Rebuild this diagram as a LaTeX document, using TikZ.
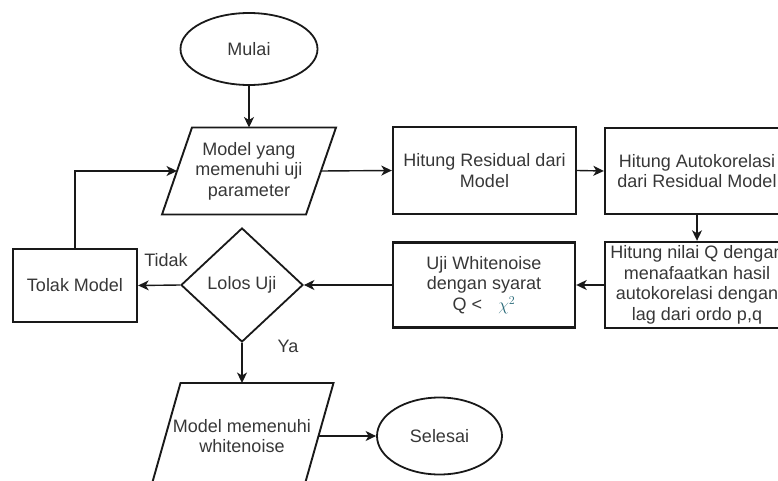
\documentclass[tikz,border=0pt]{standalone}
\usepackage{fontspec}
\setmainfont{Liberation Sans}
\usetikzlibrary{shapes.geometric,arrows.meta}
\definecolor{txt}{RGB}{55,55,55}
\definecolor{chicol}{RGB}{40,105,120}
\begin{document}
\begin{tikzpicture}[x=1pt,y=-1pt,
  font=\fontsize{18}{20.5}\selectfont, text=txt,
  box/.style={draw=black!90, line width=2.4pt, rectangle, inner sep=0pt, align=center},
  term/.style={draw=black!90, ellipse, line width=1.8pt, inner sep=0pt, align=center},
  dec/.style={draw=black!90, diamond, line width=1.8pt, inner sep=0pt, aspect=1.07},
  io/.style={rectangle, inner sep=0pt, align=center, outer sep=1pt},
  ioline/.style={draw=black!90, line width=1.9pt, line join=miter},
  conn/.style={draw=black!90, line width=1.4pt, -{Stealth[length=10.5pt,width=10pt,inset=3pt]}},
  lbl/.style={inner sep=0pt}
]
\useasboundingbox (0,0) rectangle (778,481);
\clip (0,0) rectangle (778,481);

% nodes
\node[term, minimum width=137pt, minimum height=72pt] (mulai) at (249,49) {Mulai};
\node[io, minimum width=142pt, minimum height=85pt] (p1) at (249,171) {Model yang\\memenuhi uji\\parameter};
\draw[ioline] ([xshift=15pt]p1.north west) -- ([xshift=15pt]p1.north east) -- ([xshift=-15pt]p1.south east) -- ([xshift=-15pt]p1.south west) -- cycle;
\node[box, minimum width=183pt, minimum height=87pt] (res) at (484.5,170.5) {Hitung Residual dari\\Model};
\node[box, minimum width=184pt, minimum height=86pt] (auto) at (697,171) {Hitung Autokorelasi\\dari Residual Model};
\node[box, minimum width=184pt, minimum height=86pt] (q) at (697,285) {Hitung nilai Q dengan\\menafaatkan hasil\\autokorelasi dengan\\lag dari ordo p,q};
\node[box, minimum width=182pt, minimum height=85pt] (uji) at (484,285) {Uji Whitenoise\\dengan syarat\\Q <\hspace{0.9em}{\color{chicol}$\chi^{2}$}};
\node[dec, minimum width=122pt, minimum height=114pt] (dec) at (242,285) {Lolos Uji};
\node[box, minimum width=124pt, minimum height=73pt] (tolak) at (75,285.5) {Tolak Model};
\node[io, minimum width=151pt, minimum height=104pt] (p2) at (242,436) {Model memenuhi\\whitenoise};
\draw[ioline] ([xshift=15pt]p2.north west) -- ([xshift=15pt]p2.north east) -- ([xshift=-15pt]p2.south east) -- ([xshift=-15pt]p2.south west) -- cycle;
\node[term, minimum width=125pt, minimum height=77pt] (selesai) at (439.5,436) {Selesai};

% labels
\node[lbl] (tidak) at (166,260) {Tidak};
\node[lbl] (ya) at (288,346) {Ya};

% connectors
\draw[conn] (mulai.south) -- (p1.north);
\draw[conn] (p1.east) -- (res.west);
\draw[conn] (res.east) -- (auto.west);
\draw[conn] (auto.south) -- (q.north);
\draw[conn] (q.west) -- (uji.east);
\draw[conn] (uji.west) -- (dec.east);
\draw[conn] (dec.west) -- (tolak.east);
\draw[conn] (tolak.north) |- (p1.west);
\draw[conn] (dec.south) -- (p2.north);
\draw[conn] (p2.east) -- (selesai.west);
\end{tikzpicture}
\end{document}
